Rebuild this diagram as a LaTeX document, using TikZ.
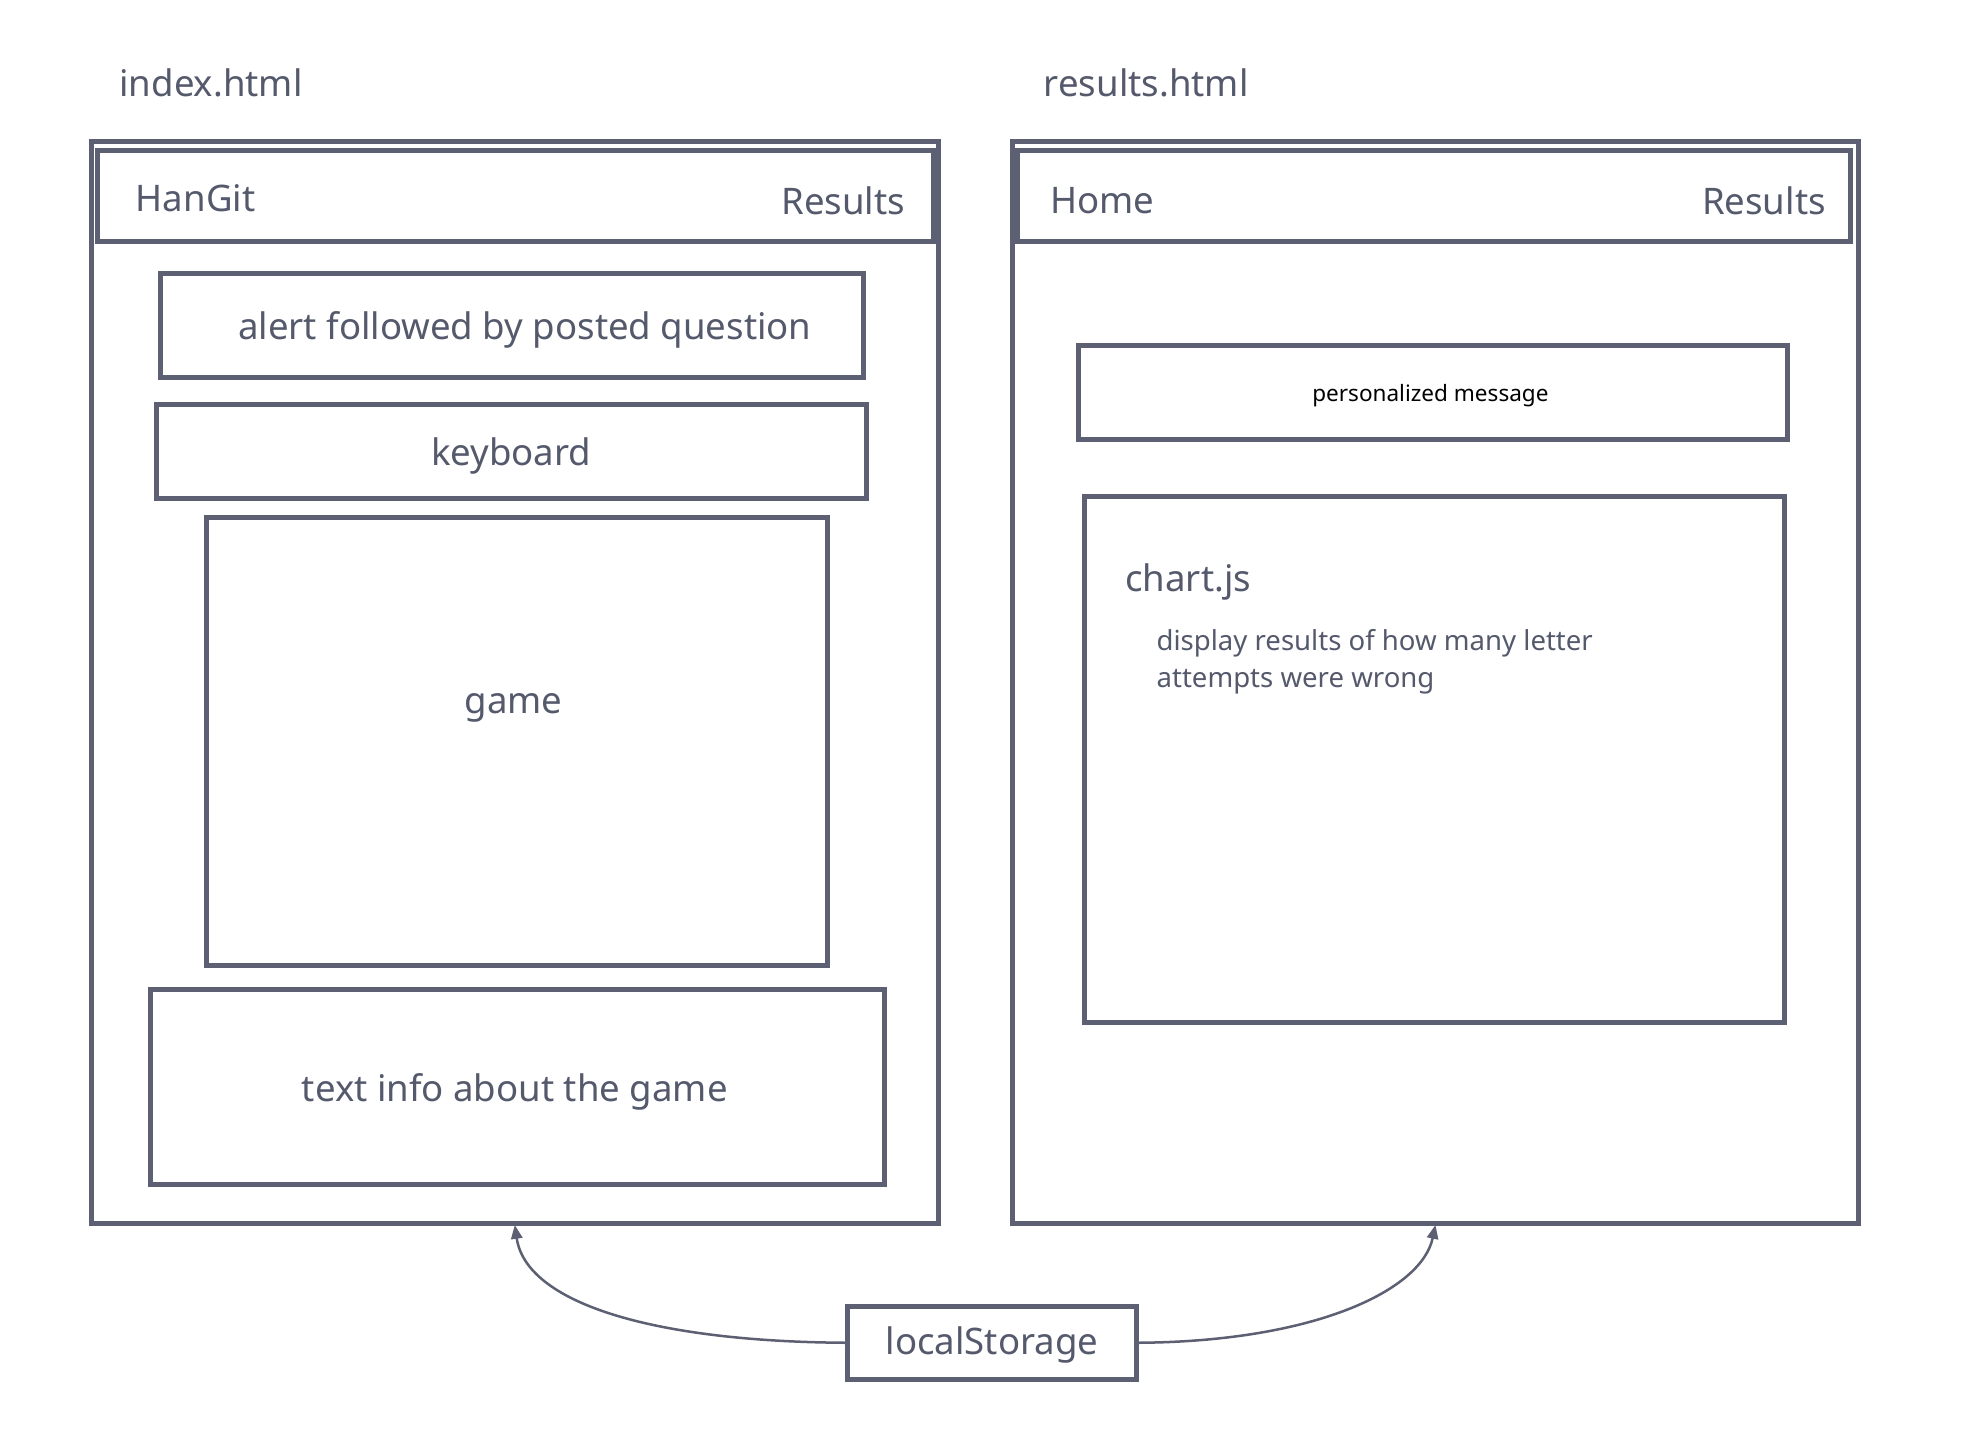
\documentclass[tikz,border=0pt]{standalone}
\usepackage{fontspec}
\setmainfont{Noto Sans}
\usetikzlibrary{arrows.meta,fit}
\definecolor{ink}{RGB}{92,96,114}
\definecolor{txt}{RGB}{84,89,108}
\begin{document}
\begin{tikzpicture}[x=0.5pt,y=-0.5pt,
  frame/.style={draw=ink, line width=2pt, inner sep=0pt},
  lbl/.style={text=txt, font=\fontsize{14.6}{18}\selectfont, inner sep=0pt},
  small/.style={text=black, font=\fontsize{9}{11}\selectfont, inner sep=0pt},
  note/.style={text=txt, font=\fontsize{11}{15}\selectfont, inner sep=0pt, align=left},
  link/.style={draw=ink, line width=1pt, -{Stealth[length=5.5pt,width=4.5pt,inset=0pt]}}]
\useasboundingbox (0,0) rectangle (1568,1142);
\fill[white] (0,0) rectangle (1568,1142);

% page titles
\node[lbl, anchor=west] (t1) at (95,66) {index.html};
\node[lbl, anchor=west] (t2) at (833,66) {results.html};

% left page
\node[frame, fit={(73,113) (749,977)}] (left) {};
\node[frame, fit={(78,120) (745,193)}] (lhead) {};
\node[lbl, anchor=west] (lhan) at (108,158) {HanGit};
\node[lbl, anchor=east] (lres) at (723,160) {Results};
\node[frame, fit={(128,218) (689,301)}] (alert) {};
\node[lbl] (alerttxt) at (419,263) {alert followed by posted question};
\node[frame, fit={(125,323) (692,398)}] (kbd) {};
\node[lbl] (kbdtxt) at (408,364) {keyboard};
\node[frame, fit={(165,413) (661,771)}] (game) {};
\node[lbl] (gametxt) at (410,565) {game};
\node[frame, fit={(120,790) (706,946)}] (info) {};
\node[lbl] (infotxt) at (411,872) {text info about the game};

% right page
\node[frame, fit={(808,113) (1484,977)}] (right) {};
\node[frame, fit={(812,120) (1477,193)}] (rhead) {};
\node[lbl, anchor=west] (rhome) at (838,160) {Home};
\node[lbl, anchor=east] (rres) at (1458,160) {Results};
\node[frame, fit={(861,276) (1427,351)}] (msg) {};
\node[small] (msgtxt) at (1142,316) {personalized message};
\node[frame, fit={(866,396) (1425,816)}] (chart) {};
\node[lbl, anchor=west] (charttxt) at (898,465) {chart.js};
\node[note, anchor=north west] (chartnote) at (923,502) {display results of how many letter\\attempts were wrong};

% localStorage
\node[frame, fit={(677,1043) (907,1101)}] (ls) {};
\node[lbl] (lstxt) at (792,1074) {localStorage};

\coordinate (lt) at (411,978);
\coordinate (rt) at (1146,978);
\draw[link] (ls.west) .. controls (520,1071) and (420,1040) .. (lt);
\draw[link] (ls.east) .. controls (1050,1071) and (1135,1030) .. (rt);
\end{tikzpicture}
\end{document}
